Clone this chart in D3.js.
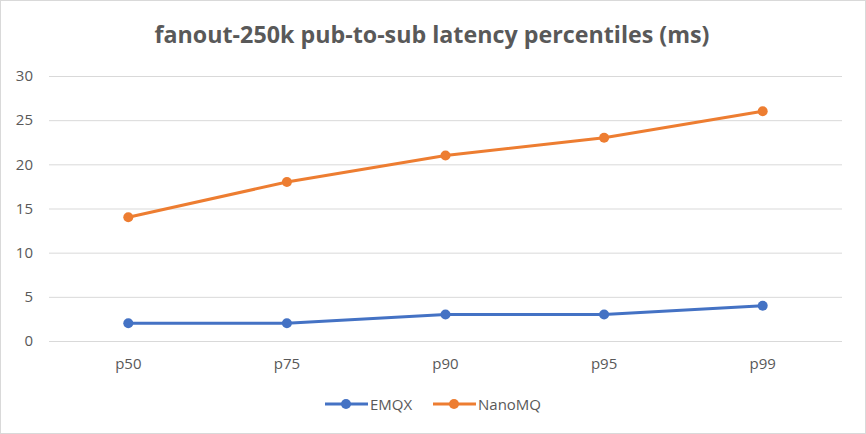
<!DOCTYPE html>
<html><head><meta charset="utf-8">
<script src="https://cdn.jsdelivr.net/npm/d3@7"></script>
<style>body{margin:0;background:#fff}</style>
</head><body>
<svg id="c" width="866" height="434"></svg>
<script>
const categories = ["p50","p75","p90","p95","p99"];
const emqx = [2,2,3,3,4];
const nanomq = [14,18,21,23,26];
const yTicks = [0,5,10,15,20,25,30];
const seriesNames = ["EMQX","NanoMQ"];
const colors = ["#4472C4","#ED7D31"];
const series = [emqx, nanomq];

const svg = d3.select("#c");
const font = "'Open Sans', Carlito, 'Liberation Sans', sans-serif";
svg.append("rect").attr("x",0.5).attr("y",0.5).attr("width",865).attr("height",433)
  .attr("fill","#fff").attr("stroke","#d9d9d9");

const x = d3.scaleBand().domain(categories).range([49,842]);
const y = d3.scaleLinear().domain([0,30]).range([341,76]);

svg.append("text").attr("x",432).attr("y",43).attr("text-anchor","middle")
  .attr("font-family",font).attr("font-weight","bold").attr("font-size",23)
  .attr("textLength",555).attr("lengthAdjust","spacingAndGlyphs")
  .attr("fill","#595959").text("fanout-250k pub-to-sub latency percentiles (ms)");

const ga = svg.append("g").attr("transform","translate(49,0)")
  .call(d3.axisLeft(y).tickValues(yTicks).tickSize(-793).tickPadding(16));
ga.select(".domain").remove();
ga.selectAll("line").attr("stroke","#d9d9d9").attr("stroke-width",1);
ga.selectAll("text").attr("font-family",font).attr("font-size",15).attr("fill","#595959");

const gx = svg.append("g").attr("transform","translate(0,341)")
  .call(d3.axisBottom(x).tickSize(0).tickPadding(17));
gx.select(".domain").remove();
gx.selectAll("text").attr("font-family",font).attr("font-size",15).attr("fill","#595959");

const line = d3.line().x((d,i)=>x(categories[i])+x.bandwidth()/2).y(d=>y(d));
series.forEach((s,k)=>{
  svg.append("path").datum(s).attr("d",line).attr("fill","none")
    .attr("stroke",colors[k]).attr("stroke-width",3).attr("stroke-linecap","round");
  svg.selectAll(null).data(s).enter().append("circle")
    .attr("cx",(d,i)=>x(categories[i])+x.bandwidth()/2).attr("cy",d=>y(d))
    .attr("r",5).attr("fill",colors[k]);
});

const legX = [325,433];
seriesNames.forEach((n,k)=>{
  const g = svg.append("g").attr("transform",`translate(${legX[k]},404)`);
  g.append("line").attr("x1",0).attr("x2",43).attr("stroke",colors[k]).attr("stroke-width",3);
  g.append("circle").attr("cx",21).attr("r",5).attr("fill",colors[k]);
  g.append("text").attr("x",45).attr("y",5.5).attr("font-family",font).attr("font-size",15)
    .attr("fill","#595959").text(n);
});
</script>
</body></html>
